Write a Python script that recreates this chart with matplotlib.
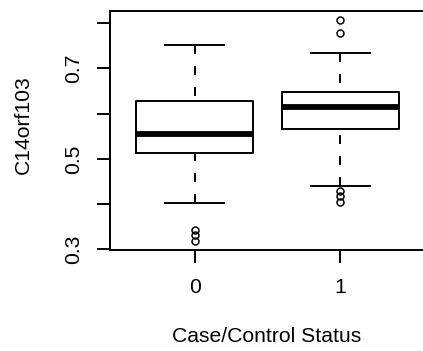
import matplotlib
matplotlib.use("Agg")
import matplotlib.pyplot as plt

plt.rcParams['font.family'] = ['Liberation Sans', 'DejaVu Sans']

# boxplot summary
groups = ["0", "1"]
q1 = [0.512, 0.565]
med = [0.554, 0.614]
q3 = [0.627, 0.647]
whislo = [0.402, 0.441]
whishi = [0.752, 0.734]
fliers = [[0.343, 0.331, 0.318], [0.806, 0.779, 0.430, 0.418, 0.405]]

stats = []
for i in range(len(groups)):
    stats.append(dict(label=groups[i], q1=q1[i], med=med[i], q3=q3[i],
                      whislo=whislo[i], whishi=whishi[i], fliers=fliers[i]))

fig = plt.figure(figsize=(4.23, 3.51), dpi=100)
ax = fig.add_axes([110 / 423, 1 - 250 / 351, 315 / 423, 239 / 351])

lw = 1.4
fs = 15.2
parts = ax.bxp(stats, positions=[1, 2], widths=0.8, showfliers=True,
               boxprops=dict(color='black', linewidth=lw),
               medianprops=dict(color='black', linewidth=4.2, solid_capstyle='butt'),
               whiskerprops=dict(color='black', linewidth=lw, linestyle=(0, (4.6, 6.2))),
               capprops=dict(color='black', linewidth=lw),
               flierprops=dict(marker='o', markerfacecolor='none', markeredgecolor='black',
                               markersize=5, markeredgewidth=1.1),
               capwidths=0.4)
# dashes start from the cap end, as in R
for w in parts['whiskers']:
    x, y = w.get_data()
    w.set_data(x[::-1], y[::-1])

ax.set_xlim(0.42, 2.58)
ax.set_ylim(0.2985, 0.827)
ax.set_yticks([0.3, 0.4, 0.5, 0.6, 0.7, 0.8])
ax.set_yticklabels(["0.3", "", "0.5", "", "0.7", ""], rotation=90, va='center')
ax.set_xticks([1, 2])
ax.set_xticklabels(groups)
ax.tick_params(axis='both', length=9.5, width=lw, labelsize=fs, color='black')
ax.tick_params(axis='y', pad=10)
ax.tick_params(axis='x', pad=11)
for s in ax.spines.values():
    s.set_linewidth(lw)

fig.text(23 / 423, 1 - 125 / 351, "C14orf103", rotation=90, ha='center', va='center', fontsize=fs)
fig.text(267 / 423, 1 - 336 / 351, "Case/Control Status", ha='center', va='center', fontsize=fs)

fig.savefig("out.png", dpi=100)
